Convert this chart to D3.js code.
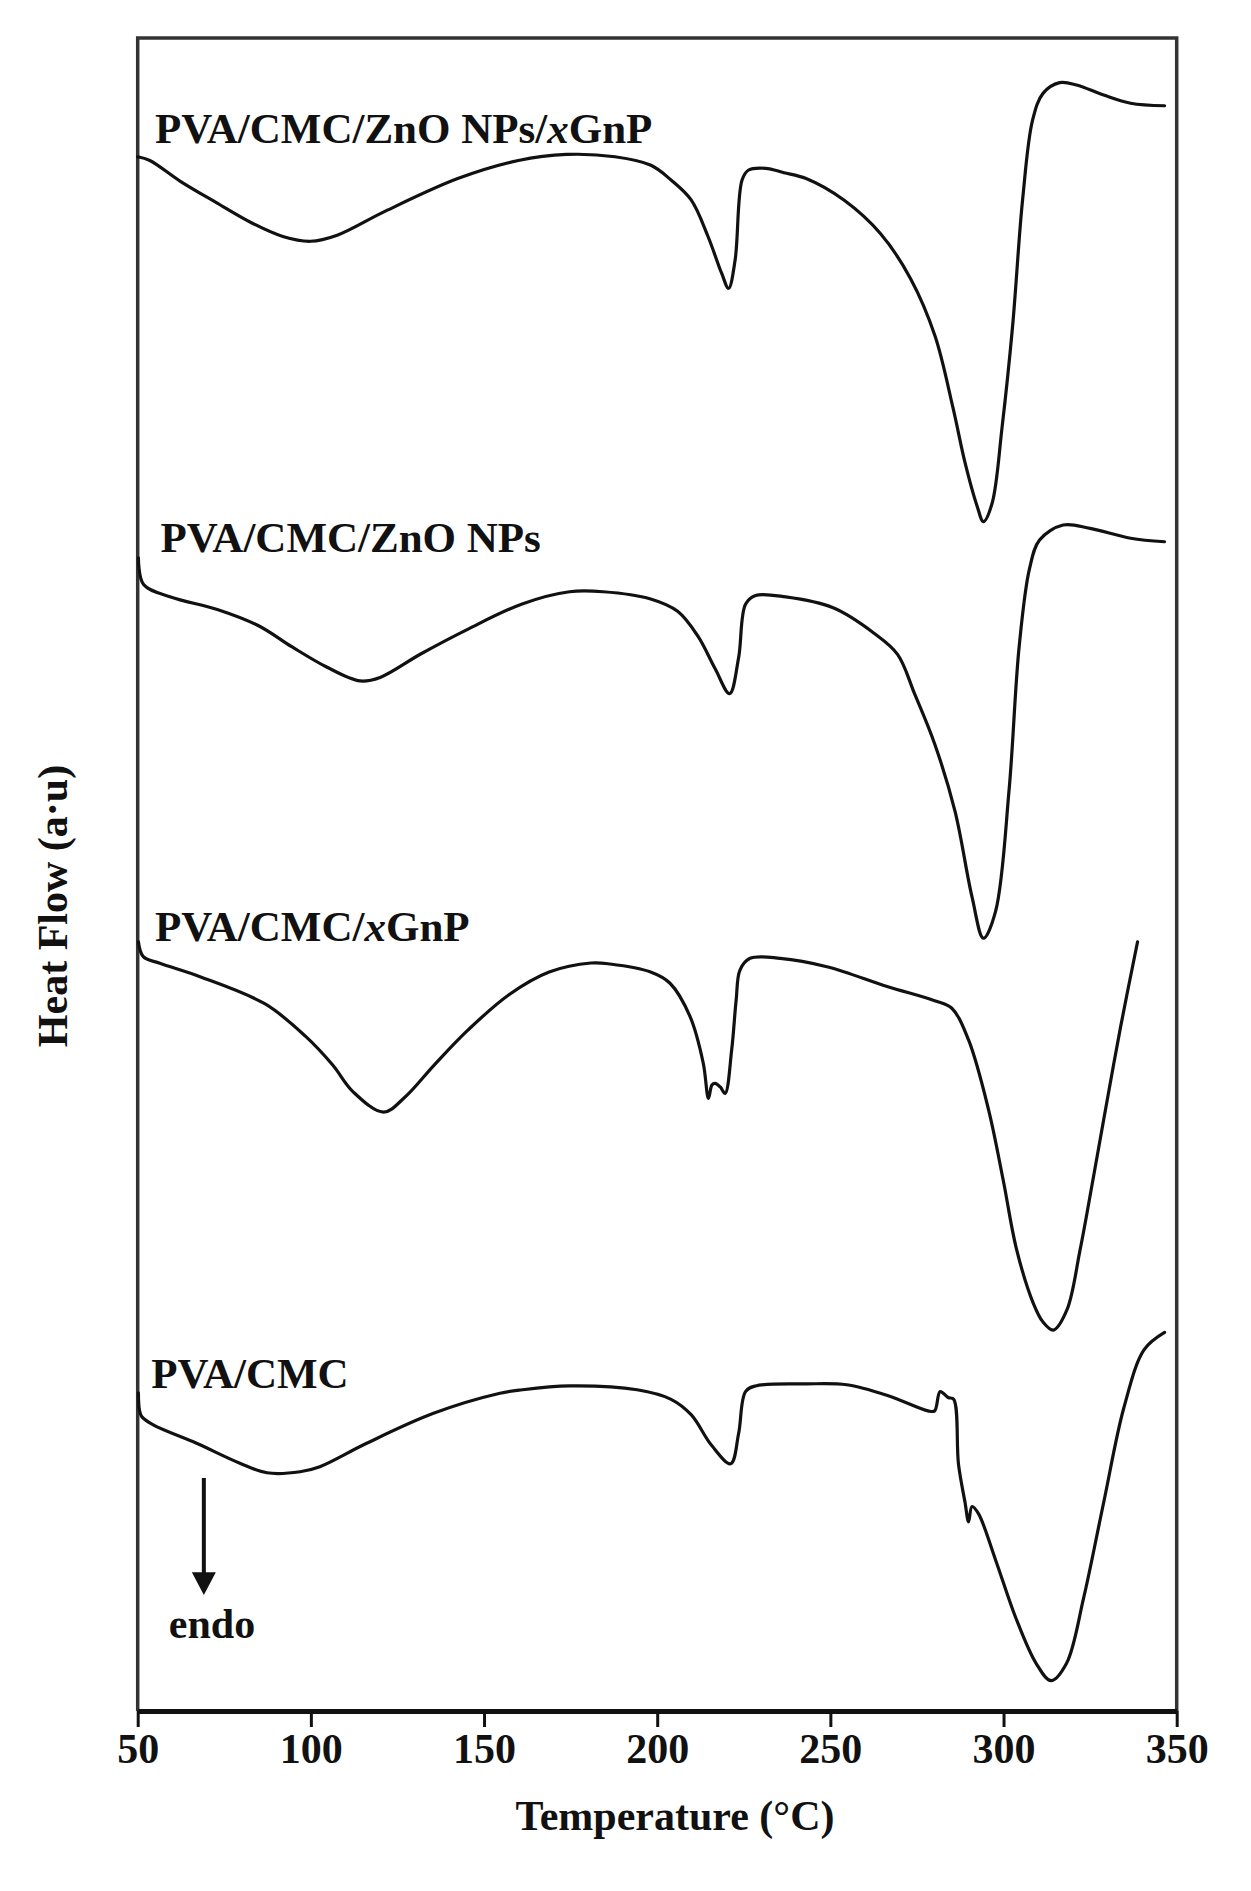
<!DOCTYPE html>
<html><head><meta charset="utf-8">
<script src="https://cdn.jsdelivr.net/npm/d3@7"></script>
<style>
html,body{margin:0;padding:0;background:#fff;}
svg{display:block;}
text{font-family:"Liberation Serif","Times New Roman",serif;font-weight:bold;fill:#111;}
</style></head><body>
<svg id="chart" width="1251" height="1891"></svg>
<script>
// ---- data (temperature in °C, heat flow in arbitrary units incl. vertical offset) ----
const xTicks = [50, 100, 150, 200, 250, 300, 350];
const seriesNames = ["PVA/CMC/ZnO NPs/xGnP", "PVA/CMC/ZnO NPs", "PVA/CMC/xGnP", "PVA/CMC"];

const tempZnOxGnP = [50.0,53.5,62.2,72.7,83.1,91.9,99.9,107.6,121.5,142.4,159.9,173.8,187.8,198.2,204.0,209.8,214.7,218.6,220.6,222.5,224.5,226.4,231.3,236.6,243.0,254.0,264.5,273.2,280.2,285.4,288.9,292.4,294.2,296.7,299.6,302.6,305.5,308.4,311.4,316.2,321.1,328.9,336.7,346.5];
const hfZnOxGnP   = [92.90,92.68,91.45,90.16,88.93,88.14,87.85,88.21,89.65,91.60,92.68,93.04,92.90,92.39,91.51,90.32,88.12,85.94,85.04,86.73,91.51,92.11,92.21,91.95,91.60,90.30,88.30,85.60,82.20,77.90,74.60,72.00,71.09,72.19,76.77,82.74,90.32,95.10,96.69,97.33,97.19,96.59,96.10,95.95];

const tempZnO = [50.2,51.7,59.5,73.2,84.9,94.6,104.4,114.2,120.0,131.7,145.4,161.0,174.7,184.4,198.1,205.9,211.8,216.7,220.9,223.5,225.5,228.4,237.1,250.8,262.5,269.4,274.3,280.1,286.0,290.9,294.2,297.7,301.6,304.5,307.5,310.4,317.2,325.0,336.7,346.5];
const hfZnO   = [68.92,67.33,66.59,65.83,64.87,63.60,62.42,61.57,61.78,63.18,64.67,66.17,66.90,66.90,66.47,65.73,64.23,62.31,60.81,62.95,66.15,66.68,66.59,65.94,64.44,63.16,60.81,57.82,53.77,48.66,46.19,47.80,55.05,63.60,68.28,69.99,70.89,70.69,70.10,69.89];

const tempxGnP = [50.2,51.6,56.4,68.0,86.8,98.5,106.3,112.2,121.0,127.2,135.6,145.4,157.1,168.8,180.9,186.4,198.1,203.7,209.5,213.3,214.8,215.8,216.7,218.2,219.6,221.5,222.8,223.9,226.8,235.5,249.0,266.4,280.1,285.0,289.9,295.7,299.9,303.8,308.6,311.4,314.4,318.3,322.1,325.6,328.9,333.8,338.7];
const hfxGnP   = [45.98,45.09,44.69,43.89,42.26,40.32,38.61,37.01,35.80,36.70,38.61,40.71,42.80,44.17,44.71,44.65,44.17,43.50,41.50,38.72,36.62,37.42,37.52,37.30,36.92,39.51,42.50,44.29,44.99,44.99,44.49,43.31,42.46,42.02,40.11,35.92,31.74,27.56,24.37,23.25,22.77,23.97,27.56,31.50,35.33,40.89,45.98];

const tempPC = [50.2,50.5,51.2,54.5,67.0,79.5,87.3,96.9,102.6,116.1,135.4,154.6,161.0,174.7,194.2,204.0,209.8,215.7,221.2,223.5,225.5,228.4,243.0,254.7,266.5,278.2,280.1,281.7,284.0,285.6,287.0,288.9,289.9,290.9,292.8,297.7,303.5,309.4,313.7,318.2,323.1,328.9,334.8,340.6,346.5];
const hfPC   = [19.01,17.99,17.59,17.10,16.00,14.81,14.24,14.30,14.60,16.00,17.79,18.99,19.20,19.43,19.20,18.63,17.71,15.88,14.78,16.57,19.09,19.43,19.55,19.50,18.86,17.94,17.94,19.09,18.74,18.63,14.74,12.45,11.31,12.22,11.78,9.03,5.59,2.85,1.81,2.85,6.73,12.45,18.17,21.60,22.63];

const seriesTemps = [tempZnOxGnP, tempZnO, tempxGnP, tempPC];
const seriesHF = [hfZnOxGnP, hfZnO, hfxGnP, hfPC];

// ---- layout ----
const svg = d3.select("#chart");
const L = 137.7, R = 1176.7, T = 38, B = 1711;
const x = d3.scaleLinear().domain([50, 350]).range([L, R]);
const y = d3.scaleLinear().domain([0, 100]).range([B, T]);

// frame (left, top, right)
svg.append("path")
  .attr("d", `M${L},${B} L${L},${T} L${R},${T} L${R},${B}`)
  .attr("fill", "none").attr("stroke", "#333").attr("stroke-width", 3.5);

// curves
const line = d3.line().x(d => x(d[0])).y(d => y(d[1])).curve(d3.curveCatmullRom.alpha(0.5));
seriesTemps.forEach((ts, i) => {
  const pts = ts.map((t, j) => [t, seriesHF[i][j]]);
  svg.append("path").datum(pts)
    .attr("d", line)
    .attr("fill", "none").attr("stroke", "#111")
    .attr("stroke-width", 3.2).attr("stroke-linejoin", "round").attr("stroke-linecap", "round");
});

// x axis
const ax = svg.append("g").attr("transform", `translate(0,${B})`)
  .call(d3.axisBottom(x).tickValues(xTicks).tickSize(16).tickSizeOuter(0).tickPadding(6).tickFormat(d3.format("d")));
ax.select(".domain").attr("stroke", "#111").attr("stroke-width", 5);
ax.selectAll(".tick line").attr("stroke", "#111").attr("stroke-width", 3);
ax.selectAll(".tick text").attr("font-size", 42).attr("font-family", null).attr("fill", "#111");

// axis titles
svg.append("text").attr("x", 675).attr("y", 1830).attr("text-anchor", "middle")
  .attr("font-size", 42).text("Temperature (°C)");
svg.append("text").attr("transform", "translate(67,906) rotate(-90)").attr("text-anchor", "middle")
  .attr("font-size", 42).text("Heat Flow (a·u)");

// series labels
const labelPos = [[55.0, 93.7], [56.6, 69.3], [55.0, 46.0], [53.9, 19.3]];
const labelParts = [
  [["PVA/CMC/ZnO NPs/", false], ["x", true], ["GnP", false]],
  [["PVA/CMC/ZnO NPs", false]],
  [["PVA/CMC/", false], ["x", true], ["GnP", false]],
  [["PVA/CMC", false]]
];
labelParts.forEach((parts, i) => {
  const t = svg.append("text").attr("x", x(labelPos[i][0])).attr("y", y(labelPos[i][1])).attr("font-size", 43);
  parts.forEach(p => t.append("tspan").attr("font-style", p[1] ? "italic" : "normal").text(p[0]));
});

// endo arrow
const ax0 = x(69.1);
svg.append("line").attr("x1", ax0).attr("x2", ax0).attr("y1", y(13.93)).attr("y2", y(7.6))
  .attr("stroke", "#111").attr("stroke-width", 4);
svg.append("path")
  .attr("d", `M${ax0 - 12},${y(8.3)} L${ax0 + 12},${y(8.3)} L${ax0},${y(6.93)} Z`)
  .attr("fill", "#111");
svg.append("text").attr("x", x(59.0)).attr("y", y(4.37)).attr("font-size", 42).text("endo");
</script>
</body></html>
